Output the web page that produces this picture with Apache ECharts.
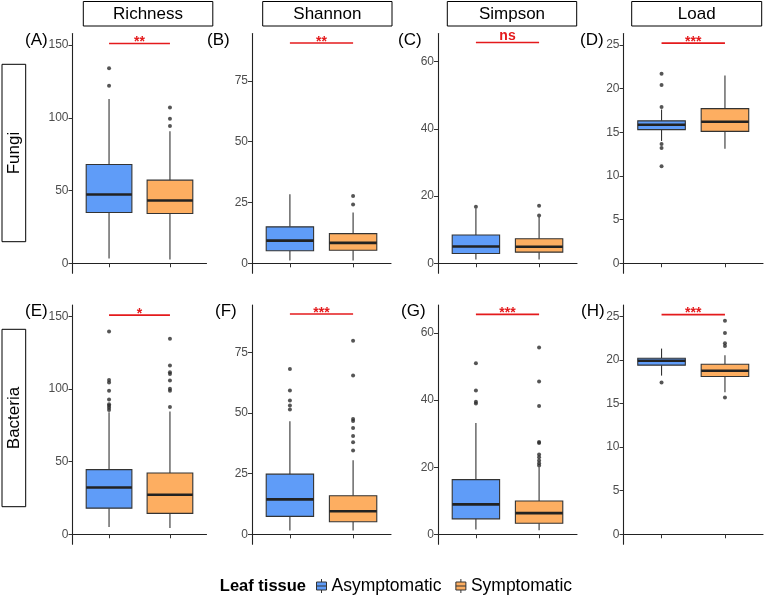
<!DOCTYPE html>
<html>
<head>
<meta charset="utf-8">
<script src="https://cdn.jsdelivr.net/npm/echarts/dist/echarts.min.js"></script>
<style>
html, body { margin: 0; padding: 0; background: #fff; }
#main { width: 764px; height: 596px; }
</style>
</head>
<body>
<div id="main"></div>
<script>
const metrics = ['Richness', 'Shannon', 'Simpson', 'Load']
const kingdoms = ['Fungi', 'Bacteria']
const groups = ['Asymptomatic', 'Symptomatic']
const panelTags = ['(A)', '(B)', '(C)', '(D)', '(E)', '(F)', '(G)', '(H)']

// whisker low, Q1, median, Q3, whisker high  (panels A..H)
const asymBoxes = [
    [3.2, 34.9, 47.3, 67.9, 112.8],
    [1.2, 5.2, 9.35, 15.0, 28.4],
    [1.1, 2.9, 5.0, 8.4, 16.3],
    [14.0, 15.3, 15.85, 16.3, 17.6],
    [5.0, 18.0, 32.2, 44.5, 84.0],
    [1.6, 7.4, 14.4, 24.8, 46.6],
    [1.4, 4.6, 8.9, 16.3, 33.2],
    [18.2, 19.4, 19.9, 20.2, 21.3]
]
const symBoxes = [
    [2.5, 34.2, 43.1, 57.1, 90.8],
    [1.2, 5.4, 8.4, 12.2, 20.9],
    [1.1, 3.3, 4.9, 7.3, 13.8],
    [13.1, 15.1, 16.2, 17.7, 21.5],
    [4.3, 14.4, 27.2, 42.2, 84.5],
    [1.6, 5.2, 9.5, 15.9, 30.5],
    [1.2, 3.3, 6.3, 9.9, 20.0],
    [16.3, 18.1, 18.75, 19.5, 20.55]
]
const asymOutliers = [
    [122, 134],
    [],
    [16.8],
    [11.1, 13.2, 13.65, 17.9, 20.4, 21.7],
    [85.6, 87.2, 88.5, 89.6, 92.9, 98.9, 104.5, 106.2, 139.7],
    [51.4, 53.1, 55.2, 59.3, 68.1],
    [39.0, 39.5, 42.9, 51.0],
    [17.4]
]
const symOutliers = [
    [94.3, 99.3, 107],
    [24.2, 27.7],
    [14.2, 17.1],
    [],
    [87.7, 98.9, 100.2, 105.9, 110.3, 111.6, 116.2, 134.7],
    [34.5, 37.9, 40.5, 43.8, 46.7, 47.5, 65.5, 79.8],
    [20.5, 21.2, 22.0, 23.0, 23.8, 27.2, 27.5, 38.3, 45.6, 55.7],
    [15.7, 21.6, 21.9, 23.1, 24.5]
]
const sigLabels = ['**', '**', 'ns', '***', '*', '***', '***', '***']
const sigLevels = [151, 90.6, 65.7, 25.2, 150.9, 90.8, 65.6, 25.2]

// per metric column
const yTicks = [[0, 50, 100, 150], [0, 25, 50, 75], [0, 20, 40, 60], [0, 5, 10, 15, 20, 25]]
const yRanges = [[-6.9, 157.9], [-4.1, 94.5], [-3.0, 68.4], [-1.15, 26.3]]

const colors = ['#5f9cf8', '#fdae61']
const font = 'Liberation Sans, Arial, sans-serif'

const colLeft = [72.5, 252, 438, 623.5]
const colWidth = [134, 139, 139, 139.5]
const rowTop = [33.5, 305]
const rowHeight = [239.8, 239.3]

function boxRenderer(color) {
    return function (params, api) {
        const x = api.value(0)
        const lo = api.coord([x, api.value(1)])
        const q1 = api.coord([x, api.value(2)])
        const md = api.coord([x, api.value(3)])
        const q3 = api.coord([x, api.value(4)])
        const hi = api.coord([x, api.value(5)])
        const half = api.size([0.75, 0])[0] / 2
        const whisker = { stroke: '#333', lineWidth: 1.1 }
        return {
            type: 'group',
            children: [
                { type: 'line', shape: { x1: lo[0], y1: lo[1], x2: lo[0], y2: q1[1] }, style: whisker },
                { type: 'line', shape: { x1: hi[0], y1: hi[1], x2: hi[0], y2: q3[1] }, style: whisker },
                {
                    type: 'rect',
                    shape: { x: q3[0] - half, y: q3[1], width: half * 2, height: q1[1] - q3[1] },
                    style: { fill: color, stroke: '#333', lineWidth: 1.1 }
                },
                {
                    type: 'line',
                    shape: { x1: md[0] - half, y1: md[1], x2: md[0] + half, y2: md[1] },
                    style: { stroke: '#222', lineWidth: 2.6 }
                }
            ]
        }
    }
}

function sigRenderer(label) {
    return function (params, api) {
        const a = api.coord([api.value(0), api.value(2)])
        const b = api.coord([api.value(1), api.value(2)])
        return {
            type: 'group',
            children: [
                { type: 'line', shape: { x1: a[0], y1: a[1], x2: b[0], y2: b[1] }, style: { stroke: '#e41a1c', lineWidth: 1.6 } },
                {
                    type: 'text',
                    style: {
                        x: (a[0] + b[0]) / 2,
                        y: a[1] + (label === 'ns' ? 1 : 6),
                        text: label,
                        fill: '#e41a1c',
                        font: 'bold 14px ' + font,
                        align: 'center',
                        verticalAlign: 'bottom'
                    }
                }
            ]
        }
    }
}

const grid = [], xAxis = [], yAxis = [], series = []
for (let r = 0; r < 2; r++) {
    for (let c = 0; c < 4; c++) {
        const p = r * 4 + c
        grid.push({ left: colLeft[c], top: rowTop[r], width: colWidth[c], height: rowHeight[r] })
        xAxis.push({
            gridIndex: p, type: 'value', min: 0.4, max: 2.6,
            axisLine: { lineStyle: { color: '#222', width: 1.1 } },
            axisTick: { customValues: [1, 2], length: 4, lineStyle: { color: '#333' } },
            axisLabel: { show: false },
            splitLine: { show: false }
        })
        yAxis.push({
            gridIndex: p, type: 'value', min: yRanges[c][0], max: yRanges[c][1],
            axisLine: { show: true, lineStyle: { color: '#222', width: 1.1 } },
            axisTick: { show: true, customValues: yTicks[c], length: 4, lineStyle: { color: '#333' } },
            axisLabel: { customValues: yTicks[c], color: '#4d4d4d', fontSize: 12, margin: 4, fontFamily: font },
            splitLine: { show: false }
        })
        const boxes = [asymBoxes[p], symBoxes[p]]
        const outs = [asymOutliers[p], symOutliers[p]]
        groups.forEach((g, gi) => {
            series.push({
                type: 'custom', name: g, xAxisIndex: p, yAxisIndex: p,
                itemStyle: { color: colors[gi] },
                renderItem: boxRenderer(colors[gi]),
                data: [[gi + 1].concat(boxes[gi])],
                silent: true
            })
            series.push({
                type: 'scatter', name: 'outlier', xAxisIndex: p, yAxisIndex: p,
                symbolSize: 4, itemStyle: { color: '#2b2b2b' },
                data: outs[gi].map(v => [gi + 1, v]),
                silent: true
            })
        })
        series.push({
            type: 'custom', name: 'sig', xAxisIndex: p, yAxisIndex: p,
            renderItem: sigRenderer(sigLabels[p]),
            data: [[1, 2, sigLevels[p]]],
            silent: true
        })
    }
}

const stripTop = [[83.3, 129.5], [262.7, 129.3], [447.3, 129.4], [631.7, 130]]
const stripSide = [64.3, 329.3]
const tagPos = [[25, 40], [207, 40], [398, 40], [580, 40], [25, 311], [215, 311], [401, 311], [581, 311]]

const graphic = []
metrics.forEach((m, i) => {
    graphic.push({
        type: 'rect', shape: { x: stripTop[i][0], y: 1.5, width: stripTop[i][1], height: 24.5 },
        style: { fill: '#fff', stroke: '#000', lineWidth: 1 }
    })
    graphic.push({
        type: 'text', x: stripTop[i][0] + stripTop[i][1] / 2, y: 14,
        style: { text: m, font: '17px ' + font, fill: '#000', align: 'center', verticalAlign: 'middle' }
    })
})
kingdoms.forEach((k, i) => {
    graphic.push({
        type: 'rect', shape: { x: 2, y: stripSide[i], width: 23.7, height: 177.4 },
        style: { fill: '#fff', stroke: '#000', lineWidth: 1 }
    })
    graphic.push({
        type: 'text', x: 14, y: stripSide[i] + 88.7, rotation: Math.PI / 2,
        style: { text: k, font: '17px ' + font, fill: '#000', align: 'center', verticalAlign: 'middle' }
    })
})
panelTags.forEach((t, i) => {
    graphic.push({
        type: 'text', x: tagPos[i][0], y: tagPos[i][1],
        style: { text: t, font: '17px ' + font, fill: '#000', align: 'left', verticalAlign: 'middle' }
    })
})
graphic.push({
    type: 'text', x: 306, y: 586,
    style: { text: 'Leaf tissue', font: 'bold 16.5px ' + font, fill: '#000', align: 'right', verticalAlign: 'middle' }
})

const chart = echarts.init(document.getElementById('main'), null, { renderer: 'canvas' })
chart.setOption({
    animation: false,
    backgroundColor: '#fff',
    textStyle: { fontFamily: font },
    grid: grid,
    xAxis: xAxis,
    yAxis: yAxis,
    legend: {
        data: groups,
        left: 311, top: 572,
        itemWidth: 10, itemHeight: 14, itemGap: 14,
        icon: 'path://M5,0L5,3M0,3L10,3L10,11L0,11ZM0,7L10,7M5,11L5,14',
        itemStyle: { borderColor: '#333', borderWidth: 1 },
        textStyle: { fontSize: 17.5, color: '#000', fontFamily: font },
        selectedMode: false
    },
    graphic: graphic,
    series: series
})
</script>
</body>
</html>
